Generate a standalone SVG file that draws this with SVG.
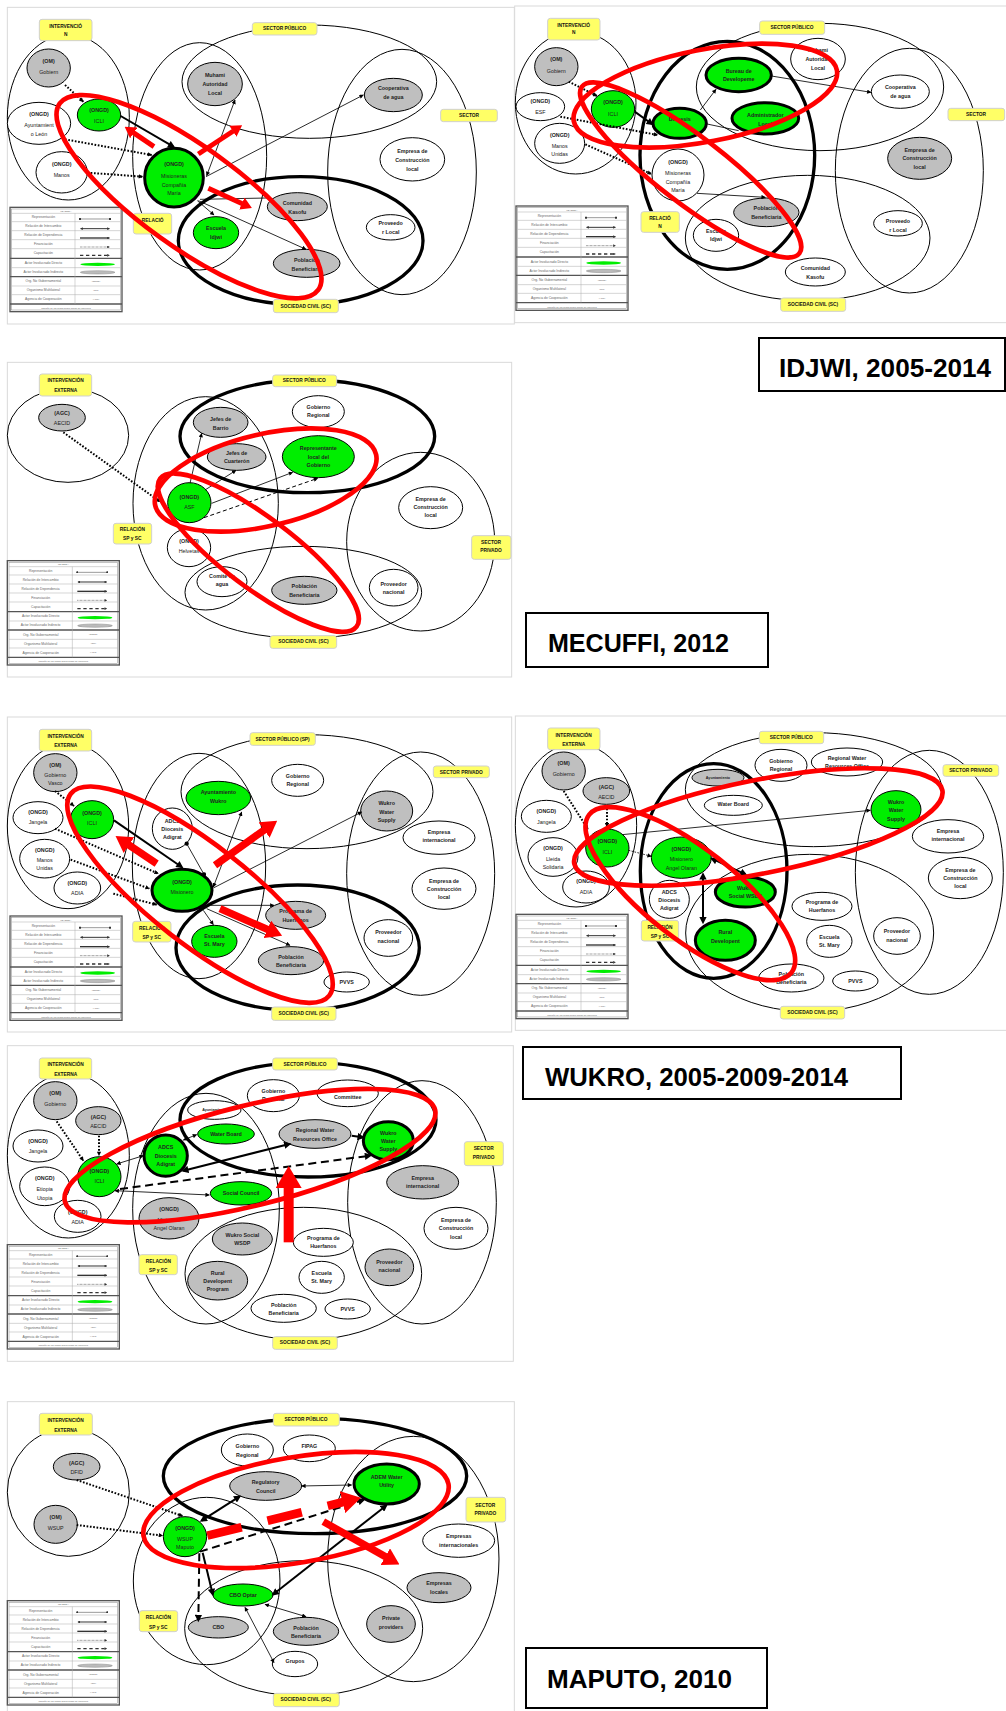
<svg xmlns="http://www.w3.org/2000/svg" xmlns:xlink="http://www.w3.org/1999/xlink" width="1006" height="1711" viewBox="0 0 1006 1711">
<style>
.frame{fill:#fff;stroke:#d9d9d9;stroke-width:3}
.zone{fill:none;stroke:#000;stroke-width:3}
.zone.b{stroke-width:10}
.lab rect{fill:#ffff66;stroke:#d0d0d0;stroke-width:3}
.lab text{font-family:"Liberation Sans",Arial,sans-serif;font-weight:bold;font-size:14.5px;text-anchor:middle;dominant-baseline:central;fill:#111}
.nd ellipse{fill:#fff;stroke:#000;stroke-width:3}
.nd.g ellipse{fill:#bfbfbf}
.nd.v ellipse{fill:#00ee00}
.nd.b ellipse{stroke-width:9}
.nd text{font-family:"Liberation Sans",Arial,sans-serif;font-weight:bold;font-size:16px;text-anchor:middle;dominant-baseline:central;fill:#222}
.nd .r{font-weight:normal}
.nd .s{font-size:11px}
.cn line{fill:none;stroke:#000}
.c1{stroke-width:2.5}
.c2{stroke-width:6}
.dt{stroke-width:6;stroke-dasharray:5 5}
.dt1{stroke-width:2.5;stroke-dasharray:5 4}
.ds{stroke-width:6;stroke-dasharray:24 14}
.ds1{stroke-width:3;stroke-dasharray:12 8}
.red{fill:none;stroke:#ff0000;stroke-width:14}
.ra{fill:none;stroke:#ff0000}
.lg text{font-family:"Liberation Sans",Arial,sans-serif;font-size:10px;text-anchor:middle;dominant-baseline:central;fill:#666}
.lg .sm{font-size:7px}
.lg .sep{stroke:#aaa;stroke-width:1.5}
.lg .sepb{stroke:#555;stroke-width:4}
.title rect{fill:#fff;stroke:#000;stroke-width:2}
.title text{font-family:"Liberation Sans",Arial,sans-serif;font-weight:bold;font-size:26px;fill:#000}
</style>
<defs>
<marker id="ah" viewBox="0 0 10 10" refX="9" refY="5" markerWidth="15" markerHeight="13" markerUnits="userSpaceOnUse" orient="auto-start-reverse"><path d="M0,0L10,5L0,10z"/></marker>
<marker id="ahb" viewBox="0 0 10 10" refX="7" refY="5" markerWidth="24" markerHeight="22" markerUnits="userSpaceOnUse" orient="auto-start-reverse"><path d="M0,0L10,5L0,10z"/></marker>
<marker id="dm" viewBox="0 0 10 10" refX="5" refY="5" markerWidth="13" markerHeight="13" markerUnits="userSpaceOnUse"><circle cx="5" cy="5" r="5"/></marker>
<marker id="lh" viewBox="0 0 10 10" refX="8" refY="5" markerWidth="9" markerHeight="8" markerUnits="userSpaceOnUse" orient="auto-start-reverse"><path d="M0,0L10,5L0,10z" fill="#333"/></marker>
<marker id="ld" viewBox="0 0 10 10" refX="5" refY="5" markerWidth="7" markerHeight="7" markerUnits="userSpaceOnUse"><circle cx="5" cy="5" r="5" fill="#333"/></marker>
<marker id="rh" viewBox="0 0 22 26" refX="1" refY="13" markerWidth="2.2" markerHeight="2.6" orient="auto"><path d="M0,0L22,13L0,26z" fill="#ff0000"/></marker>
<!-- shared legend box, drawn in panel units -->
<g id="legend" class="lg">
 <rect x="0" y="0" width="336" height="313" fill="#fff" stroke="#555" stroke-width="4"/>
 <rect x="5" y="5" width="326" height="303" fill="none" stroke="#888" stroke-width="1.5"/>
 <line class="sep" x1="5" y1="18" x2="331" y2="18"/>
 <line class="sep" x1="5" y1="43" x2="331" y2="43"/>
 <line class="sep" x1="5" y1="70" x2="331" y2="70"/>
 <line class="sep" x1="5" y1="97" x2="331" y2="97"/>
 <line class="sep" x1="5" y1="124" x2="331" y2="124"/>
 <line class="sepb" x1="0" y1="153" x2="336" y2="153"/>
 <line class="sep" x1="5" y1="181" x2="331" y2="181"/>
 <line class="sepb" x1="0" y1="208" x2="336" y2="208"/>
 <line class="sep" x1="5" y1="236" x2="331" y2="236"/>
 <line class="sep" x1="5" y1="262" x2="331" y2="262"/>
 <line class="sepb" x1="0" y1="290" x2="336" y2="290"/>
 <line class="sep" x1="195" y1="18" x2="195" y2="290"/>
 <text class="sm" x="168" y="11">LEYENDA</text>
 <text x="100" y="30">Representación</text>
 <text x="100" y="57">Relación de Intercambio</text>
 <text x="100" y="84">Relación de Dependencia</text>
 <text x="100" y="111">Financiación</text>
 <text x="100" y="138">Capacitación</text>
 <text x="100" y="167">Actor Involucrado Directo</text>
 <text x="100" y="194">Actor Involucrado Indirecto</text>
 <text x="100" y="222">Org. No Gubernamental</text>
 <text x="100" y="249">Organismo Multilateral</text>
 <text x="100" y="276">Agencia de Cooperación</text>
 <text class="sm" x="168" y="302">Tamaño de los nodos según grado de influencia</text>
 <line x1="210" y1="35" x2="300" y2="35" stroke="#333" stroke-width="1.5" marker-start="url(#ld)" marker-end="url(#ld)"/>
 <line x1="212" y1="64" x2="298" y2="64" stroke="#333" stroke-width="3" marker-start="url(#lh)" marker-end="url(#lh)"/>
 <line x1="210" y1="92" x2="298" y2="92" stroke="#333" stroke-width="4" marker-end="url(#lh)"/>
 <line x1="210" y1="119" x2="298" y2="119" stroke="#333" stroke-width="2" stroke-dasharray="2 2" marker-end="url(#lh)"/>
 <line x1="210" y1="144" x2="298" y2="144" stroke="#333" stroke-width="4" stroke-dasharray="10 8" marker-end="url(#lh)"/>
 <ellipse cx="263" cy="171" rx="52" ry="5" fill="#00ee00"/>
 <ellipse cx="263" cy="195" rx="52" ry="5" fill="#bbb" stroke="#888" stroke-width="1.5"/>
 <text class="sm" x="258" y="221">(ONGD)</text>
 <text class="sm" x="258" y="248">(OM)</text>
 <text class="sm" x="258" y="275">(AGC)</text>
</g>
</defs>

<rect width="1006" height="1711" fill="#fff"/>

<!-- ============ IDJWI, first map ============ -->
<g id="idjwi-a" transform="translate(0 0) scale(0.33333)">
 <rect class="frame" x="22" y="22" width="1521" height="950"/>
 <g id="idjwi-a-zones">
  <ellipse class="zone" cx="205" cy="352" rx="183" ry="248"/>
  <ellipse class="zone" cx="599" cy="469" rx="201" ry="341"/>
  <ellipse class="zone" cx="928" cy="245" rx="382" ry="170"/>
  <ellipse class="zone" cx="1206" cy="516" rx="223" ry="368"/>
  <ellipse class="zone b" cx="902" cy="722" rx="367" ry="192"/>
 </g>
 <use xlink:href="#legend" x="30" y="622"/>
 <g id="idjwi-a-lab-int" class="lab"><rect x="118" y="58" width="158" height="64" rx="8"/><text x="197" y="80">INTERVENCIÓ</text><text x="197" y="104">N</text></g>
 <g id="idjwi-a-lab-sp" class="lab"><rect x="757" y="68" width="194" height="37" rx="8"/><text x="854" y="87">SECTOR PÚBLICO</text></g>
 <g id="idjwi-a-lab-spr" class="lab"><rect x="1322" y="328" width="170" height="37" rx="8"/><text x="1407" y="347">SECTOR</text></g>
 <g id="idjwi-a-lab-rel" class="lab"><rect x="400" y="640" width="115" height="62" rx="8"/><text x="458" y="663">RELACIÓ</text></g>
 <g id="idjwi-a-lab-sc" class="lab"><rect x="820" y="898" width="195" height="40" rx="8"/><text x="917" y="919">SOCIEDAD CIVIL (SC)</text></g>
 <g id="idjwi-a-om" class="nd g"><ellipse cx="146" cy="204" rx="65" ry="57"/><text><tspan x="146" y="183">(OM)</tspan><tspan class="r" x="146" y="216">Gobiern</tspan></text></g>
 <g id="idjwi-a-ayto" class="nd"><ellipse cx="117" cy="370" rx="95" ry="63"/><text><tspan x="117" y="342">(ONGD)</tspan><tspan class="r" x="117" y="375">Ayuntamient</tspan><tspan class="r" x="117" y="402">o León</tspan></text></g>
 <g id="idjwi-a-manos" class="nd"><ellipse cx="185" cy="517" rx="77" ry="62"/><text><tspan x="185" y="492">(ONGD)</tspan><tspan class="r" x="185" y="525">Manos</tspan></text></g>
 <g id="idjwi-a-icli" class="nd v"><ellipse cx="297" cy="345" rx="65" ry="48"/><text><tspan x="297" y="330">(ONGD)</tspan><tspan class="r" x="297" y="362">ICLI</tspan></text></g>
 <g id="idjwi-a-mis" class="nd v b"><ellipse cx="522" cy="533" rx="88" ry="88"/><text><tspan x="522" y="492">(ONGD)</tspan><tspan class="r" x="522" y="528">Misioneras</tspan><tspan class="r" x="522" y="555">Compañía</tspan><tspan class="r" x="522" y="580">María</tspan></text></g>
 <g id="idjwi-a-muhami" class="nd g"><ellipse cx="645" cy="252" rx="82" ry="65"/><text><tspan x="645" y="225">Muhami</tspan><tspan x="645" y="252">Autoridad</tspan><tspan x="645" y="279">Local</tspan></text></g>
 <g id="idjwi-a-coop" class="nd g"><ellipse cx="1180" cy="285" rx="87" ry="50"/><text><tspan x="1180" y="264">Cooperativa</tspan><tspan x="1180" y="291">de agua</tspan></text></g>
 <g id="idjwi-a-empresa" class="nd"><ellipse cx="1237" cy="478" rx="97" ry="65"/><text><tspan x="1237" y="453">Empresa de</tspan><tspan x="1237" y="480">Construcción</tspan><tspan x="1237" y="507">local</tspan></text></g>
 <g id="idjwi-a-kasofu" class="nd g"><ellipse cx="892" cy="620" rx="90" ry="42"/><text><tspan x="892" y="608">Comunidad</tspan><tspan x="892" y="635">Kasofu</tspan></text></g>
 <g id="idjwi-a-prov" class="nd"><ellipse cx="1172" cy="682" rx="73" ry="38"/><text><tspan x="1172" y="668">Proveedo</tspan><tspan x="1172" y="695">r Local</tspan></text></g>
 <g id="idjwi-a-escuela" class="nd v"><ellipse cx="648" cy="698" rx="68" ry="48"/><text><tspan x="648" y="684">Escuela</tspan><tspan x="648" y="711">Idjwi</tspan></text></g>
 <g id="idjwi-a-pob" class="nd g"><ellipse cx="920" cy="790" rx="100" ry="42"/><text><tspan x="920" y="780">Población</tspan><tspan x="920" y="806">Beneficiaria</tspan></text></g>
 <g id="idjwi-a-links" class="cn">
  <line class="dt" x1="195" y1="255" x2="250" y2="305" marker-end="url(#ah)"/>
  <line class="dt" x1="195" y1="418" x2="455" y2="465" marker-end="url(#ah)"/>
  <line class="dt" x1="262" y1="518" x2="428" y2="530" marker-end="url(#ah)"/>
  <line class="c2" x1="362" y1="348" x2="520" y2="440" marker-end="url(#ahb)"/>
  <line class="c1" x1="620" y1="527" x2="705" y2="300" marker-start="url(#ah)" marker-end="url(#ah)"/>
  <line class="c1" x1="618" y1="530" x2="1090" y2="285" marker-end="url(#ah)"/>
  <line class="c1" x1="600" y1="598" x2="802" y2="594"/>
  <line class="c1" x1="592" y1="602" x2="642" y2="645" marker-end="url(#ah)"/>
  <line class="c1" x1="595" y1="602" x2="918" y2="748" marker-end="url(#ah)"/>
 </g>
 <g id="idjwi-a-focus">
  <ellipse class="red" cx="567" cy="590" rx="478" ry="150" transform="rotate(35.8 567 590)"/>
  <line class="ra" x1="462" y1="440" x2="400" y2="398" stroke-width="15" marker-end="url(#rh)"/>
  <line class="ra" x1="595" y1="462" x2="700" y2="393" stroke-width="15" marker-end="url(#rh)"/>
  <line class="ra" x1="625" y1="565" x2="727" y2="611" stroke-width="15" marker-end="url(#rh)"/>
 </g>
</g>

<!-- ============ IDJWI, second map ============ -->
<g id="idjwi-b" transform="translate(512 0) scale(0.33333)">
 <rect class="frame" x="8" y="18" width="1500" height="950"/>
 <g id="idjwi-b-zones">
  <ellipse class="zone" cx="191" cy="308" rx="181" ry="214"/>
  <ellipse class="zone b" cx="646" cy="466" rx="262" ry="342"/>
  <ellipse class="zone" cx="924" cy="261" rx="371" ry="191"/>
  <ellipse class="zone" cx="1192" cy="512" rx="222" ry="367"/>
  <ellipse class="zone" cx="887" cy="714" rx="367" ry="188"/>
 </g>
 <use xlink:href="#legend" x="12" y="618"/>
 <g id="idjwi-b-lab-int" class="lab"><rect x="107" y="55" width="157" height="65" rx="8"/><text x="185" y="77">INTERVENCIÓ</text><text x="185" y="99">N</text></g>
 <g id="idjwi-b-lab-sp" class="lab"><rect x="743" y="63" width="195" height="40" rx="8"/><text x="840" y="84">SECTOR PÚBLICO</text></g>
 <g id="idjwi-b-lab-spr" class="lab"><rect x="1308" y="325" width="170" height="37" rx="8"/><text x="1392" y="344">SECTOR</text></g>
 <g id="idjwi-b-lab-rel" class="lab"><rect x="387" y="635" width="115" height="62" rx="8"/><text x="444" y="657">RELACIÓ</text><text x="444" y="681">N</text></g>
 <g id="idjwi-b-lab-sc" class="lab"><rect x="806" y="894" width="195" height="40" rx="8"/><text x="903" y="914">SOCIEDAD CIVIL (SC)</text></g>
 <g id="idjwi-b-om" class="nd g"><ellipse cx="133" cy="200" rx="65" ry="57"/><text><tspan x="133" y="177">(OM)</tspan><tspan class="r" x="133" y="213">Gobiern</tspan></text></g>
 <g id="idjwi-b-esf" class="nd"><ellipse cx="85" cy="320" rx="73" ry="42"/><text><tspan x="85" y="303">(ONGD)</tspan><tspan class="r" x="85" y="336">ESF</tspan></text></g>
 <g id="idjwi-b-manos" class="nd"><ellipse cx="143" cy="430" rx="75" ry="60"/><text><tspan x="143" y="405">(ONGD)</tspan><tspan class="r" x="143" y="438">Manos</tspan><tspan class="r" x="143" y="462">Unidas</tspan></text></g>
 <g id="idjwi-b-icli" class="nd v"><ellipse cx="303" cy="327" rx="65" ry="55"/><text><tspan x="303" y="307">(ONGD)</tspan><tspan class="r" x="303" y="342">ICLI</tspan></text></g>
 <g id="idjwi-b-diocesis" class="nd v b"><ellipse cx="503" cy="370" rx="80" ry="45"/><text><tspan x="503" y="358">Diocesis</tspan></text></g>
 <g id="idjwi-b-bureau" class="nd v b"><ellipse cx="680" cy="225" rx="98" ry="50"/><text><tspan x="680" y="213">Bureau de</tspan><tspan x="680" y="238">Developeme</tspan></text></g>
 <g id="idjwi-b-admin" class="nd v b"><ellipse cx="760" cy="355" rx="100" ry="47"/><text><tspan x="760" y="345">Administrador</tspan><tspan x="760" y="372">Local</tspan></text></g>
 <g id="idjwi-b-muhami" class="nd"><ellipse cx="918" cy="177" rx="82" ry="62"/><text><tspan x="918" y="150">Muhami</tspan><tspan x="918" y="177">Autoridad</tspan><tspan x="918" y="204">Local</tspan></text></g>
 <g id="idjwi-b-coop" class="nd"><ellipse cx="1165" cy="275" rx="87" ry="50"/><text><tspan x="1165" y="262">Cooperativa</tspan><tspan x="1165" y="288">de agua</tspan></text></g>
 <g id="idjwi-b-empresa" class="nd g"><ellipse cx="1223" cy="475" rx="96" ry="63"/><text><tspan x="1223" y="450">Empresa de</tspan><tspan x="1223" y="475">Construcción</tspan><tspan x="1223" y="501">local</tspan></text></g>
 <g id="idjwi-b-mis" class="nd"><ellipse cx="498" cy="525" rx="78" ry="78"/><text><tspan x="498" y="487">(ONGD)</tspan><tspan class="r" x="498" y="520">Misioneras</tspan><tspan class="r" x="498" y="546">Compañía</tspan><tspan class="r" x="498" y="570">María</tspan></text></g>
 <g id="idjwi-b-pob" class="nd g"><ellipse cx="763" cy="637" rx="98" ry="43"/><text><tspan x="763" y="625">Población</tspan><tspan x="763" y="651">Beneficiaria</tspan></text></g>
 <g id="idjwi-b-escuela" class="nd"><ellipse cx="612" cy="706" rx="68" ry="48"/><text><tspan x="612" y="692">Escuela</tspan><tspan x="612" y="718">Idjwi</tspan></text></g>
 <g id="idjwi-b-prov" class="nd"><ellipse cx="1158" cy="670" rx="73" ry="38"/><text><tspan x="1158" y="663">Proveedo</tspan><tspan x="1158" y="690">r Local</tspan></text></g>
 <g id="idjwi-b-kasofu" class="nd"><ellipse cx="910" cy="816" rx="90" ry="42"/><text><tspan x="910" y="804">Comunidad</tspan><tspan x="910" y="830">Kasofu</tspan></text></g>
 <g id="idjwi-b-links" class="cn">
  <line class="dt" x1="170" y1="245" x2="255" y2="288" marker-end="url(#ah)"/>
  <line class="dt" x1="145" y1="350" x2="437" y2="405" marker-end="url(#ah)"/>
  <line class="dt" x1="220" y1="433" x2="418" y2="522" marker-end="url(#ah)"/>
  <line class="c2" x1="368" y1="335" x2="420" y2="372" marker-end="url(#ahb)"/>
  <line class="c1" x1="565" y1="330" x2="612" y2="268" marker-end="url(#ah)"/>
  <line class="c1" x1="585" y1="372" x2="680" y2="392"/>
  <line class="c1" x1="778" y1="228" x2="1077" y2="277" marker-end="url(#ah)"/>
  <line class="c1" x1="555" y1="580" x2="760" y2="592" marker-end="url(#ah)"/>
 </g>
 <g id="idjwi-b-focus">
  <ellipse class="red" cx="580" cy="287" rx="402" ry="138" transform="rotate(-11 580 287)"/>
  <ellipse class="red" cx="536" cy="510" rx="411" ry="100" transform="rotate(37.5 536 510)"/>
 </g>
</g>

<!-- ============ MECUFFI ============ -->
<g id="mecuffi" transform="translate(0 355) scale(0.33333)">
 <rect class="frame" x="22" y="22" width="1513" height="944"/>
 <g id="mecuffi-zones">
  <ellipse class="zone" cx="204" cy="241" rx="182" ry="141"/>
  <ellipse class="zone" cx="617" cy="445" rx="218" ry="320"/>
  <ellipse class="zone b" cx="922" cy="244" rx="382" ry="169"/>
  <ellipse class="zone" cx="1262" cy="560" rx="222" ry="268"/>
  <ellipse class="zone" cx="910" cy="712" rx="355" ry="138"/>
 </g>
 <use xlink:href="#legend" x="22" y="617"/>
 <g id="mecuffi-lab-int" class="lab"><rect x="118" y="57" width="157" height="66" rx="8"/><text x="197" y="78">INTERVENCIÓN</text><text x="197" y="107">EXTERNA</text></g>
 <g id="mecuffi-lab-sp" class="lab"><rect x="818" y="60" width="192" height="35" rx="8"/><text x="913" y="78">SECTOR PÚBLICO</text></g>
 <g id="mecuffi-lab-rel" class="lab"><rect x="340" y="505" width="115" height="62" rx="8"/><text x="397" y="525">RELACIÓN</text><text x="397" y="552">SP y SC</text></g>
 <g id="mecuffi-lab-spr" class="lab"><rect x="1415" y="542" width="118" height="71" rx="8"/><text x="1473" y="564">SECTOR</text><text x="1473" y="588">PRIVADO</text></g>
 <g id="mecuffi-lab-sc" class="lab"><rect x="810" y="842" width="200" height="38" rx="8"/><text x="910" y="861">SOCIEDAD CIVIL (SC)</text></g>
 <g id="mecuffi-aecid" class="nd g"><ellipse cx="186" cy="188" rx="70" ry="40"/><text><tspan x="186" y="175">(AGC)</tspan><tspan class="r" x="186" y="204">AECID</tspan></text></g>
 <g id="mecuffi-barrio" class="nd g"><ellipse cx="662" cy="202" rx="82" ry="45"/><text><tspan x="662" y="191">Jefes de</tspan><tspan x="662" y="218">Barrio</tspan></text></g>
 <g id="mecuffi-cuarteron" class="nd g"><ellipse cx="710" cy="306" rx="88" ry="40"/><text><tspan x="710" y="294">Jefes de</tspan><tspan x="710" y="318">Cuarterón</tspan></text></g>
 <g id="mecuffi-gobreg" class="nd"><ellipse cx="955" cy="170" rx="78" ry="48"/><text><tspan x="955" y="156">Gobierno</tspan><tspan x="955" y="181">Regional</tspan></text></g>
 <g id="mecuffi-repres" class="nd v"><ellipse cx="955" cy="305" rx="108" ry="63"/><text><tspan x="955" y="280">Representante</tspan><tspan x="955" y="305">local del</tspan><tspan x="955" y="330">Gobierno</tspan></text></g>
 <g id="mecuffi-asf" class="nd v"><ellipse cx="568" cy="443" rx="65" ry="60"/><text><tspan x="568" y="427">(ONGD)</tspan><tspan class="r" x="568" y="457">ASF</tspan></text></g>
 <g id="mecuffi-helvetas" class="nd"><ellipse cx="567" cy="578" rx="65" ry="57"/><text><tspan x="567" y="558">(ONGD)</tspan><tspan class="r" x="567" y="588">Helvetas</tspan></text></g>
 <g id="mecuffi-comite" class="nd"><ellipse cx="666" cy="680" rx="75" ry="45"/><text><tspan x="666" y="663">Comité de</tspan><tspan x="666" y="688">agua</tspan></text></g>
 <g id="mecuffi-pob" class="nd g"><ellipse cx="913" cy="706" rx="98" ry="42"/><text><tspan x="913" y="694">Población</tspan><tspan x="913" y="720">Beneficiaria</tspan></text></g>
 <g id="mecuffi-empresa" class="nd"><ellipse cx="1292" cy="458" rx="96" ry="63"/><text><tspan x="1292" y="432">Empresa de</tspan><tspan x="1292" y="456">Construcción</tspan><tspan x="1292" y="480">local</tspan></text></g>
 <g id="mecuffi-prov" class="nd"><ellipse cx="1181" cy="698" rx="73" ry="55"/><text><tspan x="1181" y="688">Proveedor</tspan><tspan x="1181" y="711">nacional</tspan></text></g>
 <g id="mecuffi-links" class="cn">
  <line class="dt" x1="190" y1="232" x2="480" y2="440" marker-end="url(#ah)"/>
  <line class="c1" x1="570" y1="385" x2="605" y2="235" marker-end="url(#ah)"/>
  <line class="c1" x1="615" y1="405" x2="708" y2="346" marker-end="url(#ah)"/>
  <line class="c1" x1="635" y1="445" x2="878" y2="352" marker-end="url(#ah)"/>
  <line class="ds1" x1="612" y1="488" x2="953" y2="370" marker-end="url(#ah)"/>
 </g>
 <g id="mecuffi-focus">
  <ellipse class="red" cx="797" cy="375" rx="340" ry="138" transform="rotate(-13 797 375)"/>
  <ellipse class="red" cx="775" cy="593" rx="369" ry="105" transform="rotate(37 775 593)"/>
 </g>
</g>

<!-- ============ WUKRO, first map ============ -->
<g id="wukro-a" transform="translate(0 712) scale(0.33333)">
 <rect class="frame" x="22" y="15" width="1513" height="945"/>
 <g id="wukro-a-zones">
  <ellipse class="zone" cx="204" cy="342" rx="182" ry="248"/>
  <ellipse class="zone" cx="597" cy="462" rx="200" ry="338"/>
  <ellipse class="zone" cx="921" cy="239" rx="378" ry="171"/>
  <ellipse class="zone" cx="1262" cy="485" rx="222" ry="365"/>
  <ellipse class="zone b" cx="893" cy="707" rx="365" ry="188"/>
 </g>
 <use xlink:href="#legend" x="30" y="612"/>
 <g id="wukro-a-lab-int" class="lab"><rect x="118" y="52" width="157" height="65" rx="8"/><text x="197" y="75">INTERVENCIÓN</text><text x="197" y="102">EXTERNA</text></g>
 <g id="wukro-a-lab-sp" class="lab"><rect x="750" y="62" width="196" height="38" rx="8"/><text x="848" y="83">SECTOR PÚBLICO (SP)</text></g>
 <g id="wukro-a-lab-spr" class="lab"><rect x="1300" y="162" width="168" height="35" rx="8"/><text x="1384" y="181">SECTOR PRIVADO</text></g>
 <g id="wukro-a-lab-rel" class="lab"><rect x="398" y="628" width="115" height="62" rx="8"/><text x="455" y="651">RELACIÓN</text><text x="455" y="677">SP y SC</text></g>
 <g id="wukro-a-lab-sc" class="lab"><rect x="815" y="885" width="193" height="40" rx="8"/><text x="911" y="906">SOCIEDAD CIVIL (SC)</text></g>
 <g id="wukro-a-om" class="nd g"><ellipse cx="166" cy="182" rx="65" ry="57"/><text><tspan x="166" y="160">(OM)</tspan><tspan class="r" x="166" y="189">Gobierno</tspan><tspan class="r" x="166" y="213">Vasco</tspan></text></g>
 <g id="wukro-a-jangela" class="nd"><ellipse cx="114" cy="317" rx="75" ry="48"/><text><tspan x="114" y="300">(ONGD)</tspan><tspan class="r" x="114" y="330">Jangela</tspan></text></g>
 <g id="wukro-a-icli" class="nd v"><ellipse cx="276" cy="323" rx="65" ry="57"/><text><tspan x="276" y="303">(ONGD)</tspan><tspan class="r" x="276" y="333">ICLI</tspan></text></g>
 <g id="wukro-a-manos" class="nd"><ellipse cx="134" cy="440" rx="75" ry="58"/><text><tspan x="134" y="415">(ONGD)</tspan><tspan class="r" x="134" y="445">Manos</tspan><tspan class="r" x="134" y="468">Unidas</tspan></text></g>
 <g id="wukro-a-adia" class="nd"><ellipse cx="232" cy="528" rx="70" ry="48"/><text><tspan x="232" y="513">(ONGD)</tspan><tspan class="r" x="232" y="543">ADIA</tspan></text></g>
 <g id="wukro-a-adcs" class="nd"><ellipse cx="517" cy="350" rx="60" ry="62"/><text><tspan x="517" y="327">ADCS</tspan><tspan x="517" y="351">Diocesis</tspan><tspan x="517" y="375">Adigrat</tspan></text></g>
 <g id="wukro-a-ayto" class="nd v"><ellipse cx="655" cy="258" rx="97" ry="50"/><text><tspan x="655" y="241">Ayuntamiento</tspan><tspan x="655" y="267">Wukro</tspan></text></g>
 <g id="wukro-a-gobreg" class="nd"><ellipse cx="893" cy="205" rx="78" ry="48"/><text><tspan x="893" y="192">Gobierno</tspan><tspan x="893" y="216">Regional</tspan></text></g>
 <g id="wukro-a-mis" class="nd v b"><ellipse cx="546" cy="535" rx="90" ry="63"/><text><tspan x="546" y="511">(ONGD)</tspan><tspan class="r" x="546" y="540">Misionero</tspan></text></g>
 <g id="wukro-a-wws" class="nd g"><ellipse cx="1160" cy="297" rx="78" ry="60"/><text><tspan x="1160" y="273">Wukro</tspan><tspan x="1160" y="300">Water</tspan><tspan x="1160" y="325">Supply</tspan></text></g>
 <g id="wukro-a-empint" class="nd"><ellipse cx="1317" cy="377" rx="108" ry="50"/><text><tspan x="1317" y="361">Empresa</tspan><tspan x="1317" y="385">internacional</tspan></text></g>
 <g id="wukro-a-empcons" class="nd"><ellipse cx="1332" cy="530" rx="96" ry="62"/><text><tspan x="1332" y="507">Empresa de</tspan><tspan x="1332" y="531">Construcción</tspan><tspan x="1332" y="555">local</tspan></text></g>
 <g id="wukro-a-huerf" class="nd g"><ellipse cx="887" cy="610" rx="90" ry="42"/><text><tspan x="887" y="597">Programa de</tspan><tspan x="887" y="623">Huerfanos</tspan></text></g>
 <g id="wukro-a-escuela" class="nd v"><ellipse cx="643" cy="688" rx="68" ry="48"/><text><tspan x="643" y="672">Escuela</tspan><tspan x="643" y="697">St. Mary</tspan></text></g>
 <g id="wukro-a-pob" class="nd g"><ellipse cx="873" cy="746" rx="98" ry="42"/><text><tspan x="873" y="736">Población</tspan><tspan x="873" y="760">Beneficiaria</tspan></text></g>
 <g id="wukro-a-prov" class="nd"><ellipse cx="1165" cy="678" rx="73" ry="55"/><text><tspan x="1165" y="661">Proveedor</tspan><tspan x="1165" y="688">nacional</tspan></text></g>
 <g id="wukro-a-pvvs" class="nd"><ellipse cx="1040" cy="810" rx="68" ry="30"/><text><tspan x="1040" y="810">PVVS</tspan></text></g>
 <g id="wukro-a-links" class="cn">
  <line class="dt" x1="165" y1="237" x2="222" y2="282" marker-end="url(#ah)"/>
  <line class="dt" x1="165" y1="350" x2="475" y2="485" marker-end="url(#ah)"/>
  <line class="dt" x1="212" y1="443" x2="448" y2="530" marker-end="url(#ah)"/>
  <line class="dt" x1="340" y1="545" x2="470" y2="578" marker-end="url(#ah)"/>
  <line class="c2" x1="342" y1="325" x2="545" y2="465" marker-end="url(#ahb)"/>
  <line class="c1" x1="560" y1="395" x2="612" y2="487" marker-start="url(#dm)" marker-end="url(#dm)"/>
  <line class="c1" x1="640" y1="525" x2="725" y2="300" marker-start="url(#ah)" marker-end="url(#ah)"/>
  <line class="c1" x1="640" y1="528" x2="1085" y2="300" marker-end="url(#ah)"/>
  <line class="c1" x1="632" y1="580" x2="822" y2="580" marker-end="url(#ah)"/>
  <line class="c1" x1="610" y1="595" x2="640" y2="638" marker-end="url(#ah)"/>
  <line class="c1" x1="620" y1="590" x2="870" y2="700" marker-end="url(#ah)"/>
 </g>
 <g id="wukro-a-focus">
  <ellipse class="red" cx="600" cy="548" rx="492" ry="148" transform="rotate(38 600 548)"/>
  <line class="ra" x1="470" y1="455" x2="385" y2="398" stroke-width="22" marker-end="url(#rh)"/>
  <line class="ra" x1="645" y1="460" x2="794" y2="353" stroke-width="22" marker-end="url(#rh)"/>
  <line class="ra" x1="660" y1="590" x2="804" y2="653" stroke-width="22" marker-end="url(#rh)"/>
 </g>
</g>

<!-- ============ WUKRO, second map ============ -->
<g id="wukro-b" transform="translate(512 712) scale(0.33333)">
 <rect class="frame" x="10" y="12" width="1500" height="943"/>
 <g id="wukro-b-zones">
  <ellipse class="zone" cx="192" cy="340" rx="182" ry="245"/>
  <ellipse class="zone b" cx="605" cy="477" rx="220" ry="322"/>
  <ellipse class="zone" cx="905" cy="233" rx="385" ry="171"/>
  <ellipse class="zone" cx="1252" cy="481" rx="222" ry="366"/>
  <ellipse class="zone" cx="893" cy="663" rx="372" ry="236"/>
 </g>
 <use xlink:href="#legend" x="12" y="607"/>
 <g id="wukro-b-lab-int" class="lab"><rect x="107" y="48" width="157" height="65" rx="8"/><text x="185" y="72">INTERVENCIÓN</text><text x="185" y="99">EXTERNA</text></g>
 <g id="wukro-b-lab-sp" class="lab"><rect x="742" y="58" width="193" height="37" rx="8"/><text x="838" y="77">SECTOR PÚBLICO</text></g>
 <g id="wukro-b-lab-spr" class="lab"><rect x="1293" y="158" width="167" height="35" rx="8"/><text x="1376" y="177">SECTOR PRIVADO</text></g>
 <g id="wukro-b-lab-rel" class="lab"><rect x="388" y="625" width="112" height="62" rx="8"/><text x="444" y="648">RELACIÓN</text><text x="444" y="675">SP y SC</text></g>
 <g id="wukro-b-lab-sc" class="lab"><rect x="805" y="883" width="193" height="38" rx="8"/><text x="901" y="903">SOCIEDAD CIVIL (SC)</text></g>
 <g id="wukro-b-om" class="nd g"><ellipse cx="155" cy="177" rx="65" ry="57"/><text><tspan x="155" y="153">(OM)</tspan><tspan class="r" x="155" y="186">Gobierno</tspan></text></g>
 <g id="wukro-b-aecid" class="nd g"><ellipse cx="283" cy="237" rx="70" ry="40"/><text><tspan x="283" y="225">(AGC)</tspan><tspan class="r" x="283" y="255">AECID</tspan></text></g>
 <g id="wukro-b-jangela" class="nd"><ellipse cx="103" cy="313" rx="75" ry="48"/><text><tspan x="103" y="297">(ONGD)</tspan><tspan class="r" x="103" y="330">Jangela</tspan></text></g>
 <g id="wukro-b-lleida" class="nd"><ellipse cx="123" cy="435" rx="75" ry="58"/><text><tspan x="123" y="408">(ONGD)</tspan><tspan class="r" x="123" y="441">Lleida</tspan><tspan class="r" x="123" y="465">Solidaria</tspan></text></g>
 <g id="wukro-b-adia" class="nd"><ellipse cx="222" cy="525" rx="70" ry="48"/><text><tspan x="222" y="507">(ONGD)</tspan><tspan class="r" x="222" y="540">ADIA</tspan></text></g>
 <g id="wukro-b-icli" class="nd v"><ellipse cx="286" cy="408" rx="65" ry="57"/><text><tspan x="286" y="387">(ONGD)</tspan><tspan class="r" x="286" y="420">ICLI</tspan></text></g>
 <g id="wukro-b-ayto" class="nd g"><ellipse cx="618" cy="197" rx="78" ry="25"/><text><tspan class="s" x="618" y="197">Ayuntamiento</tspan></text></g>
 <g id="wukro-b-gobreg" class="nd"><ellipse cx="807" cy="160" rx="78" ry="48"/><text><tspan x="807" y="147">Gobierno</tspan><tspan x="807" y="172">Regional</tspan></text></g>
 <g id="wukro-b-rwro" class="nd"><ellipse cx="1005" cy="150" rx="107" ry="42"/><text><tspan x="1005" y="138">Regional Water</tspan><tspan x="1005" y="163">Resources Office</tspan></text></g>
 <g id="wukro-b-wboard" class="nd"><ellipse cx="664" cy="280" rx="87" ry="30"/><text><tspan x="664" y="277">Water Board</tspan></text></g>
 <g id="wukro-b-wws" class="nd v"><ellipse cx="1152" cy="293" rx="75" ry="57"/><text><tspan x="1152" y="270">Wukro</tspan><tspan x="1152" y="295">Water</tspan><tspan x="1152" y="321">Supply</tspan></text></g>
 <g id="wukro-b-empint" class="nd"><ellipse cx="1308" cy="373" rx="107" ry="50"/><text><tspan x="1308" y="357">Empresa</tspan><tspan x="1308" y="381">internacional</tspan></text></g>
 <g id="wukro-b-empcons" class="nd"><ellipse cx="1345" cy="498" rx="96" ry="62"/><text><tspan x="1345" y="474">Empresa de</tspan><tspan x="1345" y="498">Construcción</tspan><tspan x="1345" y="522">local</tspan></text></g>
 <g id="wukro-b-mis" class="nd v"><ellipse cx="508" cy="437" rx="90" ry="62"/><text><tspan x="508" y="411">(ONGD)</tspan><tspan class="r" x="508" y="441">Misionero</tspan><tspan class="r" x="508" y="467">Angel Olaran</tspan></text></g>
 <g id="wukro-b-adcs" class="nd"><ellipse cx="472" cy="562" rx="60" ry="57"/><text><tspan x="472" y="540">ADCS</tspan><tspan x="472" y="564">Diocesis</tspan><tspan x="472" y="589">Adigrat</tspan></text></g>
 <g id="wukro-b-wsdp" class="nd v b"><ellipse cx="700" cy="540" rx="90" ry="45"/><text><tspan x="700" y="528">Wukro</tspan><tspan x="700" y="552">Social WSDP</tspan></text></g>
 <g id="wukro-b-rural" class="nd v b"><ellipse cx="640" cy="685" rx="90" ry="60"/><text><tspan x="640" y="660">Rural</tspan><tspan x="640" y="687">Developent</tspan></text></g>
 <g id="wukro-b-huerf" class="nd"><ellipse cx="930" cy="583" rx="90" ry="42"/><text><tspan x="930" y="570">Programa de</tspan><tspan x="930" y="594">Huerfanos</tspan></text></g>
 <g id="wukro-b-escuela" class="nd"><ellipse cx="952" cy="688" rx="68" ry="48"/><text><tspan x="952" y="675">Escuela</tspan><tspan x="952" y="699">St. Mary</tspan></text></g>
 <g id="wukro-b-prov" class="nd"><ellipse cx="1155" cy="672" rx="70" ry="55"/><text><tspan x="1155" y="657">Proveedor</tspan><tspan x="1155" y="685">nacional</tspan></text></g>
 <g id="wukro-b-pob" class="nd"><ellipse cx="838" cy="798" rx="98" ry="42"/><text><tspan x="838" y="786">Población</tspan><tspan x="838" y="810">Beneficiaria</tspan></text></g>
 <g id="wukro-b-pvvs" class="nd"><ellipse cx="1030" cy="807" rx="68" ry="30"/><text><tspan x="1030" y="807">PVVS</tspan></text></g>
 <g id="wukro-b-links" class="cn">
  <line class="dt" x1="155" y1="237" x2="228" y2="352" marker-end="url(#ah)"/>
  <line class="dt" x1="285" y1="280" x2="285" y2="345" marker-end="url(#ah)"/>
  <line class="dt1" x1="350" y1="415" x2="418" y2="433" marker-end="url(#ah)"/>
  <line class="c1" x1="330" y1="368" x2="1075" y2="295" marker-end="url(#ah)"/>
  <line class="c2" x1="600" y1="440" x2="700" y2="487" marker-start="url(#ahb)" marker-end="url(#ahb)"/>
  <line class="c2" x1="573" y1="487" x2="573" y2="630" marker-start="url(#ahb)" marker-end="url(#ahb)"/>
 </g>
 <g id="wukro-b-focus">
  <ellipse class="red" cx="739" cy="345" rx="563" ry="140" transform="rotate(-11.3 739 345)"/>
  <ellipse class="red" cx="535" cy="545" rx="385" ry="135" transform="rotate(38 535 545)"/>
 </g>
</g>

<!-- ============ WUKRO, third map ============ -->
<g id="wukro-c" transform="translate(0 1034) scale(0.33333)">
 <rect class="frame" x="22" y="35" width="1518" height="947"/>
 <g id="wukro-c-zones">
  <ellipse class="zone" cx="205" cy="365" rx="183" ry="247"/>
  <ellipse class="zone" cx="618" cy="524" rx="220" ry="346"/>
  <ellipse class="zone b" cx="924" cy="257" rx="384" ry="172"/>
  <ellipse class="zone" cx="1266" cy="505" rx="223" ry="365"/>
  <ellipse class="zone" cx="910" cy="719" rx="355" ry="199"/>
 </g>
 <use xlink:href="#legend" x="22" y="632"/>
 <g id="wukro-c-lab-int" class="lab"><rect x="118" y="72" width="157" height="63" rx="8"/><text x="197" y="93">INTERVENCIÓN</text><text x="197" y="122">EXTERNA</text></g>
 <g id="wukro-c-lab-sp" class="lab"><rect x="818" y="72" width="194" height="36" rx="8"/><text x="915" y="92">SECTOR PÚBLICO</text></g>
 <g id="wukro-c-lab-spr" class="lab"><rect x="1393" y="323" width="117" height="72" rx="8"/><text x="1451" y="345">SECTOR</text><text x="1451" y="372">PRIVADO</text></g>
 <g id="wukro-c-lab-rel" class="lab"><rect x="417" y="662" width="115" height="60" rx="8"/><text x="475" y="684">RELACIÓN</text><text x="475" y="711">SP y SC</text></g>
 <g id="wukro-c-lab-sc" class="lab"><rect x="818" y="908" width="194" height="38" rx="8"/><text x="915" y="927">SOCIEDAD CIVIL (SC)</text></g>
 <g id="wukro-c-om" class="nd g"><ellipse cx="166" cy="200" rx="65" ry="57"/><text><tspan x="166" y="177">(OM)</tspan><tspan class="r" x="166" y="210">Gobierno</tspan></text></g>
 <g id="wukro-c-aecid" class="nd g"><ellipse cx="295" cy="260" rx="68" ry="42"/><text><tspan x="295" y="249">(AGC)</tspan><tspan class="r" x="295" y="276">AECID</tspan></text></g>
 <g id="wukro-c-jangela" class="nd"><ellipse cx="114" cy="336" rx="75" ry="48"/><text><tspan x="114" y="322">(ONGD)</tspan><tspan class="r" x="114" y="351">Jangela</tspan></text></g>
 <g id="wukro-c-etiopia" class="nd"><ellipse cx="134" cy="457" rx="75" ry="58"/><text><tspan x="134" y="432">(ONGD)</tspan><tspan class="r" x="134" y="465">Etiopia</tspan><tspan class="r" x="134" y="491">Utopia</tspan></text></g>
 <g id="wukro-c-adia" class="nd"><ellipse cx="233" cy="547" rx="70" ry="48"/><text><tspan x="233" y="534">(ONGD)</tspan><tspan class="r" x="233" y="563">ADIA</tspan></text></g>
 <g id="wukro-c-icli" class="nd v"><ellipse cx="298" cy="428" rx="65" ry="60"/><text><tspan x="298" y="411">(ONGD)</tspan><tspan class="r" x="298" y="441">ICLI</tspan></text></g>
 <g id="wukro-c-adcs" class="nd v b"><ellipse cx="497" cy="365" rx="65" ry="62"/><text><tspan x="497" y="339">ADCS</tspan><tspan x="497" y="366">Diocesis</tspan><tspan x="497" y="390">Adigrat</tspan></text></g>
 <g id="wukro-c-ayto" class="nd"><ellipse cx="643" cy="228" rx="80" ry="28"/><text><tspan class="s" x="643" y="228">Ayuntamiento</tspan></text></g>
 <g id="wukro-c-wboard" class="nd v"><ellipse cx="678" cy="300" rx="85" ry="30"/><text><tspan x="678" y="300">Water Board</tspan></text></g>
 <g id="wukro-c-gobreg" class="nd"><ellipse cx="820" cy="185" rx="78" ry="48"/><text><tspan x="820" y="172">Gobierno</tspan><tspan x="820" y="196">Regional</tspan></text></g>
 <g id="wukro-c-committee" class="nd"><ellipse cx="1043" cy="178" rx="92" ry="40"/><text><tspan x="1043" y="190">Committee</tspan></text></g>
 <g id="wukro-c-rwro" class="nd g"><ellipse cx="945" cy="300" rx="108" ry="43"/><text><tspan x="945" y="288">Regional Water</tspan><tspan x="945" y="315">Resources Office</tspan></text></g>
 <g id="wukro-c-wws" class="nd v b"><ellipse cx="1165" cy="320" rx="75" ry="57"/><text><tspan x="1165" y="297">Wukro</tspan><tspan x="1165" y="321">Water</tspan><tspan x="1165" y="345">Supply</tspan></text></g>
 <g id="wukro-c-social" class="nd v"><ellipse cx="723" cy="478" rx="92" ry="35"/><text><tspan x="723" y="478">Social Council</tspan></text></g>
 <g id="wukro-c-mis" class="nd g"><ellipse cx="507" cy="553" rx="90" ry="62"/><text><tspan x="507" y="525">(ONGD)</tspan><tspan class="r" x="507" y="557">Misionero</tspan><tspan class="r" x="507" y="582">Angel Olaran</tspan></text></g>
 <g id="wukro-c-wsdp" class="nd g"><ellipse cx="727" cy="615" rx="90" ry="48"/><text><tspan x="727" y="603">Wukro Social</tspan><tspan x="727" y="628">WSDP</tspan></text></g>
 <g id="wukro-c-rural" class="nd g"><ellipse cx="653" cy="740" rx="90" ry="58"/><text><tspan x="653" y="717">Rural</tspan><tspan x="653" y="741">Developent</tspan><tspan x="653" y="766">Program</tspan></text></g>
 <g id="wukro-c-empint" class="nd g"><ellipse cx="1268" cy="445" rx="108" ry="50"/><text><tspan x="1268" y="432">Empresa</tspan><tspan x="1268" y="456">internacional</tspan></text></g>
 <g id="wukro-c-empcons" class="nd"><ellipse cx="1368" cy="583" rx="96" ry="63"/><text><tspan x="1368" y="558">Empresa de</tspan><tspan x="1368" y="582">Construcción</tspan><tspan x="1368" y="608">local</tspan></text></g>
 <g id="wukro-c-huerf" class="nd"><ellipse cx="970" cy="625" rx="90" ry="42"/><text><tspan x="970" y="612">Programa de</tspan><tspan x="970" y="636">Huerfanos</tspan></text></g>
 <g id="wukro-c-prov" class="nd g"><ellipse cx="1168" cy="700" rx="73" ry="55"/><text><tspan x="1168" y="684">Proveedor</tspan><tspan x="1168" y="708">nacional</tspan></text></g>
 <g id="wukro-c-escuela" class="nd"><ellipse cx="965" cy="730" rx="68" ry="48"/><text><tspan x="965" y="717">Escuela</tspan><tspan x="965" y="741">St. Mary</tspan></text></g>
 <g id="wukro-c-pob" class="nd"><ellipse cx="851" cy="823" rx="98" ry="42"/><text><tspan x="851" y="813">Población</tspan><tspan x="851" y="837">Beneficiaria</tspan></text></g>
 <g id="wukro-c-pvvs" class="nd"><ellipse cx="1043" cy="825" rx="68" ry="30"/><text><tspan x="1043" y="825">PVVS</tspan></text></g>
 <g id="wukro-c-links" class="cn">
  <line class="dt" x1="170" y1="262" x2="250" y2="380" marker-end="url(#ah)"/>
  <line class="dt" x1="297" y1="305" x2="297" y2="365" marker-end="url(#ah)"/>
  <line class="c1" x1="350" y1="390" x2="430" y2="365" marker-start="url(#ah)" marker-end="url(#ah)"/>
  <line class="c1" x1="550" y1="318" x2="590" y2="302" marker-start="url(#ah)" marker-end="url(#ah)"/>
  <line class="c2" x1="550" y1="410" x2="868" y2="330" marker-start="url(#ahb)" marker-end="url(#ahb)"/>
  <line class="c2" x1="1055" y1="305" x2="1088" y2="310" marker-end="url(#ahb)"/>
  <line class="ds" x1="360" y1="465" x2="1110" y2="365" marker-end="url(#ahb)"/>
  <line class="c1" x1="345" y1="470" x2="628" y2="483" marker-start="url(#ah)" marker-end="url(#ah)"/>
 </g>
 <g id="wukro-c-focus">
  <ellipse class="red" cx="750" cy="365" rx="572" ry="150" transform="rotate(-13.9 750 365)"/>
  <line class="ra" x1="866" y1="625" x2="866" y2="459" stroke-width="30" marker-end="url(#rh)"/>
 </g>
</g>

<!-- ============ MAPUTO ============ -->
<g id="maputo" transform="translate(0 1390) scale(0.33333)">
 <rect class="frame" x="22" y="35" width="1521" height="960"/>
 <g id="maputo-zones">
  <ellipse class="zone" cx="205" cy="307" rx="183" ry="192"/>
  <ellipse class="zone" cx="620" cy="573" rx="220" ry="251"/>
  <ellipse class="zone b" cx="945" cy="258" rx="455" ry="173"/>
  <ellipse class="zone" cx="1240" cy="507" rx="257" ry="368"/>
  <ellipse class="zone" cx="911" cy="715" rx="357" ry="203"/>
 </g>
 <use xlink:href="#legend" x="22" y="632"/>
 <g id="maputo-lab-int" class="lab"><rect x="118" y="70" width="159" height="65" rx="8"/><text x="197" y="93">INTERVENCIÓN</text><text x="197" y="122">EXTERNA</text></g>
 <g id="maputo-lab-sp" class="lab"><rect x="820" y="70" width="198" height="38" rx="8"/><text x="918" y="90">SECTOR PÚBLICO</text></g>
 <g id="maputo-lab-spr" class="lab"><rect x="1398" y="322" width="119" height="74" rx="8"/><text x="1456" y="347">SECTOR</text><text x="1456" y="372">PRIVADO</text></g>
 <g id="maputo-lab-rel" class="lab"><rect x="418" y="662" width="115" height="63" rx="8"/><text x="475" y="684">RELACIÓN</text><text x="475" y="712">SP y SC</text></g>
 <g id="maputo-lab-sc" class="lab"><rect x="820" y="910" width="198" height="40" rx="8"/><text x="917" y="930">SOCIEDAD CIVIL (SC)</text></g>
 <g id="maputo-dfid" class="nd g"><ellipse cx="230" cy="230" rx="70" ry="40"/><text><tspan x="230" y="218">(AGC)</tspan><tspan class="r" x="230" y="246">DFID</tspan></text></g>
 <g id="maputo-wsup-om" class="nd g"><ellipse cx="167" cy="403" rx="65" ry="57"/><text><tspan x="167" y="381">(OM)</tspan><tspan class="r" x="167" y="414">WSUP</tspan></text></g>
 <g id="maputo-gobreg" class="nd"><ellipse cx="742" cy="180" rx="78" ry="48"/><text><tspan x="742" y="168">Gobierno</tspan><tspan x="742" y="195">Regional</tspan></text></g>
 <g id="maputo-fipag" class="nd"><ellipse cx="928" cy="175" rx="78" ry="40"/><text><tspan x="928" y="168">FIPAG</tspan></text></g>
 <g id="maputo-regc" class="nd g"><ellipse cx="797" cy="288" rx="108" ry="43"/><text><tspan x="797" y="276">Regulatory</tspan><tspan x="797" y="303">Council</tspan></text></g>
 <g id="maputo-adem" class="nd v b"><ellipse cx="1160" cy="282" rx="98" ry="60"/><text><tspan x="1160" y="261">ADEM Water</tspan><tspan x="1160" y="286">Utility</tspan></text></g>
 <g id="maputo-wsup" class="nd v"><ellipse cx="555" cy="440" rx="65" ry="60"/><text><tspan x="555" y="414">(ONGD)</tspan><tspan class="r" x="555" y="447">WSUP</tspan><tspan class="r" x="555" y="472">Maputo</tspan></text></g>
 <g id="maputo-optar" class="nd v"><ellipse cx="729" cy="615" rx="90" ry="33"/><text><tspan x="729" y="615">CBO Optar</tspan></text></g>
 <g id="maputo-cbo" class="nd g"><ellipse cx="655" cy="712" rx="90" ry="32"/><text><tspan x="655" y="712">CBO</tspan></text></g>
 <g id="maputo-pob" class="nd g"><ellipse cx="918" cy="724" rx="98" ry="42"/><text><tspan x="918" y="714">Población</tspan><tspan x="918" y="738">Beneficiaria</tspan></text></g>
 <g id="maputo-grupos" class="nd"><ellipse cx="885" cy="822" rx="68" ry="38"/><text><tspan x="885" y="813">Grupos</tspan></text></g>
 <g id="maputo-empint" class="nd"><ellipse cx="1376" cy="452" rx="108" ry="50"/><text><tspan x="1376" y="438">Empresas</tspan><tspan x="1376" y="464">internacionales</tspan></text></g>
 <g id="maputo-emploc" class="nd g"><ellipse cx="1317" cy="593" rx="96" ry="45"/><text><tspan x="1317" y="579">Empresas</tspan><tspan x="1317" y="605">locales</tspan></text></g>
 <g id="maputo-private" class="nd g"><ellipse cx="1173" cy="702" rx="73" ry="55"/><text><tspan x="1173" y="685">Private</tspan><tspan x="1173" y="711">providers</tspan></text></g>
 <g id="maputo-links" class="cn">
  <line class="dt" x1="230" y1="270" x2="548" y2="378" marker-end="url(#ah)"/>
  <line class="dt" x1="230" y1="405" x2="488" y2="437" marker-end="url(#ah)"/>
  <line class="c2" x1="605" y1="392" x2="718" y2="320" marker-start="url(#ahb)" marker-end="url(#ahb)"/>
  <line class="c1" x1="905" y1="288" x2="1055" y2="285" marker-start="url(#ah)" marker-end="url(#ah)"/>
  <line class="ds" x1="600" y1="485" x2="1090" y2="330" marker-end="url(#ahb)"/>
  <line class="c2" x1="1158" y1="347" x2="820" y2="613" marker-start="url(#ahb)" marker-end="url(#ahb)"/>
  <line class="c2" x1="608" y1="488" x2="638" y2="612" marker-end="url(#ahb)"/>
  <line class="ds" x1="598" y1="490" x2="595" y2="690" marker-end="url(#ahb)"/>
  <line class="c1" x1="795" y1="643" x2="918" y2="680" marker-start="url(#ah)" marker-end="url(#ah)"/>
  <line class="c1" x1="735" y1="652" x2="822" y2="818" marker-start="url(#ah)" marker-end="url(#ah)"/>
 </g>
 <g id="maputo-focus">
  <ellipse class="red" cx="888" cy="360" rx="464" ry="158" transform="rotate(-9.6 888 360)"/>
  <line class="ra" x1="622" y1="437" x2="1030" y2="336" stroke-width="26" stroke-dasharray="106 80" marker-end="url(#rh)"/>
  <line class="ra" x1="970" y1="395" x2="1158" y2="501" stroke-width="22" marker-end="url(#rh)"/>
 </g>
</g>

<!-- case titles -->
<g id="title-idjwi" class="title"><rect x="759" y="338" width="246" height="53"/><text x="779" y="377" textLength="212" lengthAdjust="spacingAndGlyphs">IDJWI, 2005-2014</text></g>
<g id="title-mecuffi" class="title"><rect x="526" y="613" width="242" height="54"/><text x="548" y="652" textLength="181" lengthAdjust="spacingAndGlyphs">MECUFFI, 2012</text></g>
<g id="title-wukro" class="title"><rect x="523" y="1047" width="378" height="52"/><text x="545" y="1086" textLength="303" lengthAdjust="spacingAndGlyphs">WUKRO, 2005-2009-2014</text></g>
<g id="title-maputo" class="title"><rect x="526" y="1648" width="241" height="60"/><text x="547" y="1688" textLength="185" lengthAdjust="spacingAndGlyphs">MAPUTO, 2010</text></g>
</svg>
